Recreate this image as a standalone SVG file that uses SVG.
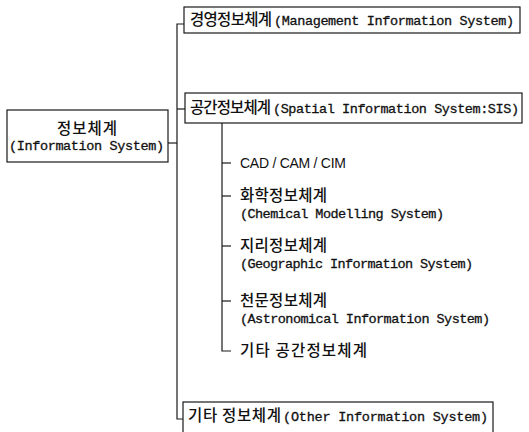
<svg xmlns="http://www.w3.org/2000/svg" width="529" height="432" viewBox="0 0 529 432">
  <style>
    .box { fill: #ffffff; stroke: #1a1a1a; stroke-width: 1.2; }
    .wire { fill: none; stroke: #1a1a1a; stroke-width: 1.2; }
    .ko { font-family: "Noto Sans CJK KR", "Noto Sans", sans-serif; font-size: 15.5px; font-weight: 500; fill: #111; }
    .en { font-family: "Liberation Mono", "DejaVu Sans Mono", monospace; font-size: 13.5px; fill: #111; stroke: #111; stroke-width: 0.3; }
    .sans { font-family: "Liberation Sans", Arial, sans-serif; font-size: 14px; fill: #111; }
  </style>
  <rect width="529" height="432" fill="#ffffff"/>

  <!-- connectors -->
  <g id="connectors">
    <!-- main trunk from root to the three top-level systems -->
    <path class="wire" d="M184,24 H177 V419 H183"/>
    <path class="wire" d="M168,143 H177"/>
    <path class="wire" d="M177,109 H185"/>
    <!-- spatial sub-tree -->
    <path class="wire" d="M222,123 V351 H231"/>
    <path class="wire" d="M222,163 H231"/>
    <path class="wire" d="M222,196 H231"/>
    <path class="wire" d="M222,246 H231"/>
    <path class="wire" d="M222,301 H231"/>
  </g>

  <!-- root -->
  <g id="root">
    <rect class="box" x="7" y="110" width="161" height="52"/>
    <text class="ko" x="57" y="134" textLength="60" lengthAdjust="spacing">정보체계</text>
    <text class="en" x="9" y="150" textLength="155" lengthAdjust="spacing">(Information System)</text>
  </g>

  <!-- management information system -->
  <g id="mis">
    <rect class="box" x="184" y="7" width="336" height="26"/>
    <text class="ko" x="190" y="25" textLength="82" lengthAdjust="spacing">경영정보체계</text>
    <text class="en" x="274" y="25" textLength="240" lengthAdjust="spacing">(Management Information System)</text>
  </g>

  <!-- spatial information system -->
  <g id="sis">
    <rect class="box" x="185" y="93" width="337" height="30"/>
    <text class="ko" x="190" y="113" textLength="81" lengthAdjust="spacing">공간정보체계</text>
    <text class="en" x="273" y="113" textLength="246" lengthAdjust="spacing">(Spatial Information System:SIS)</text>
  </g>

  <g id="cad">
    <text class="sans" x="240" y="168" textLength="106" lengthAdjust="spacing">CAD / CAM / CIM</text>
  </g>

  <g id="chemical">
    <text class="ko" x="240" y="201" textLength="87" lengthAdjust="spacing">화학정보체계</text>
    <text class="en" x="240" y="218" textLength="204" lengthAdjust="spacing">(Chemical Modelling System)</text>
  </g>

  <g id="geographic">
    <text class="ko" x="240" y="251" textLength="87" lengthAdjust="spacing">지리정보체계</text>
    <text class="en" x="240" y="268" textLength="233" lengthAdjust="spacing">(Geographic Information System)</text>
  </g>

  <g id="astronomical">
    <text class="ko" x="240" y="306" textLength="87" lengthAdjust="spacing">천문정보체계</text>
    <text class="en" x="240" y="323" textLength="250" lengthAdjust="spacing">(Astronomical Information System)</text>
  </g>

  <g id="other-spatial">
    <text class="ko" x="240" y="356" textLength="127" lengthAdjust="spacing">기타 공간정보체계</text>
  </g>

  <!-- other information systems -->
  <g id="other">
    <rect class="box" x="183" y="402" width="310" height="40"/>
    <text class="ko" x="188" y="421" textLength="93" lengthAdjust="spacing">기타 정보체계</text>
    <text class="en" x="283" y="421" textLength="205" lengthAdjust="spacing">(Other Information System)</text>
  </g>
</svg>
